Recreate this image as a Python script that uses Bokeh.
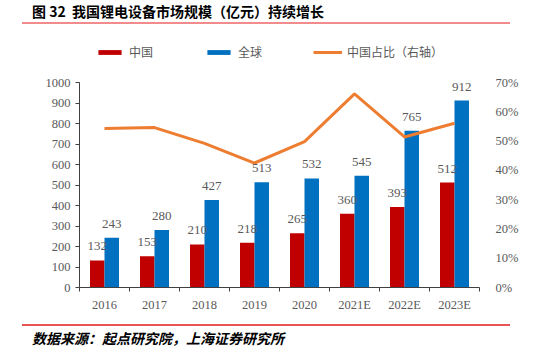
import numpy as np
from bokeh.plotting import figure
from bokeh.models import (Range1d, LinearAxis, FixedTicker, NumeralTickFormatter,
                          Legend, LegendItem, Div, ColumnDataSource)
from bokeh.layouts import column
from bokeh.core.properties import value
from bokeh.embed import file_html
from bokeh.resources import INLINE

# ---------------- data ----------------
categories = ["2016", "2017", "2018", "2019", "2020", "2021E", "2022E", "2023E"]
china = [132, 153, 210, 218, 265, 360, 393, 512]
world = [243, 280, 427, 513, 532, 545, 765, 912]
china_share = [0.543, 0.546, 0.492, 0.425, 0.498, 0.661, 0.514, 0.561]
left_ticks = [0, 100, 200, 300, 400, 500, 600, 700, 800, 900, 1000]
right_ticks = [0.0, 0.1, 0.2, 0.3, 0.4, 0.5, 0.6, 0.7]
legend_labels = ["中国", "全球", "中国占比（右轴）"]
title_text = "图 32&nbsp;&nbsp;我国锂电设备市场规模（亿元）持续增长"
source_text = "数据来源：起点研究院，上海证券研究所"

RED = "#C00000"
BLUE = "#0070C0"
ORANGE = "#ED7D31"
GRAY = "#595959"
AXIS = "#404040"

LEFT_MAX = 1000
RIGHT_MAX = 0.7
HEAD = 1.2  # frame extends above the axes' top to hold the legend

n = len(categories)
xc = np.arange(n) + 0.5
bw = 0.29
src = ColumnDataSource(dict(
    xc=xc,
    x_cn=xc - bw / 2,
    x_gl=xc + bw / 2,
    cn=china,
    gl=world,
    share=china_share,
    cn_lbl=[str(v) for v in china],
    gl_lbl=[str(v) for v in world],
))

p = figure(width=544, height=292, x_range=Range1d(0, n), y_range=Range1d(0, LEFT_MAX * HEAD),
           output_backend="svg", toolbar_location=None,
           min_border_left=79, min_border_right=65, min_border_top=15, min_border_bottom=31,
           outline_line_color=None, background_fill_color="white", border_fill_color="white")
p.extra_y_ranges = {"pct": Range1d(0, RIGHT_MAX * HEAD)}
p.xgrid.visible = False
p.ygrid.visible = False

# x axis
xa = p.xaxis[0]
xa.ticker = FixedTicker(ticks=list(xc), minor_ticks=list(range(0, n + 1)))
xa.major_label_overrides = {float(x): c for x, c in zip(xc, categories)}
xa.major_tick_out = 0
xa.major_tick_in = 0
xa.major_tick_line_color = None
xa.minor_tick_out = 4
xa.minor_tick_in = 0
xa.minor_tick_line_color = AXIS
xa.axis_line_color = AXIS
xa.major_label_standoff = 6
xa.major_label_text_font = "Liberation Serif"
xa.major_label_text_font_size = "12.5px"
xa.major_label_text_color = GRAY

# left axis
ya = p.yaxis[0]
ya.ticker = FixedTicker(ticks=left_ticks)
ya.bounds = (0, LEFT_MAX)
ya.minor_tick_line_color = None
ya.major_tick_out = 4
ya.major_tick_in = 0
ya.major_tick_line_color = AXIS
ya.axis_line_color = AXIS
ya.major_label_standoff = 5
ya.major_label_text_font = "Liberation Serif"
ya.major_label_text_font_size = "12.5px"
ya.major_label_text_color = GRAY

# right axis
yr = LinearAxis(y_range_name="pct", ticker=FixedTicker(ticks=right_ticks),
                formatter=NumeralTickFormatter(format="0%"), bounds=(0, RIGHT_MAX))
yr.axis_line_color = None
yr.major_tick_line_color = None
yr.minor_tick_line_color = None
yr.major_label_standoff = 10
yr.major_label_text_font = "Liberation Serif"
yr.major_label_text_font_size = "12.5px"
yr.major_label_text_color = GRAY
p.add_layout(yr, "right")

# glyphs
r_cn = p.vbar(x="x_cn", top="cn", width=bw, source=src, fill_color=RED, line_color=None)
r_gl = p.vbar(x="x_gl", top="gl", width=bw, source=src, fill_color=BLUE, line_color=None)
r_ln = p.line(x="xc", y="share", y_range_name="pct", source=src, line_color=ORANGE, line_width=3)

for xf, yf, tf in (("x_cn", "cn", "cn_lbl"), ("x_gl", "gl", "gl_lbl")):
    p.text(x=xf, y=yf, text=tf, source=src, text_align="center", text_baseline="middle",
           y_offset=-14, text_font=value("Liberation Serif"), text_font_size="13px",
           text_color=GRAY)

legend = Legend(items=[LegendItem(label=legend_labels[0], renderers=[r_cn]),
                       LegendItem(label=legend_labels[1], renderers=[r_gl]),
                       LegendItem(label=legend_labels[2], renderers=[r_ln])],
                orientation="horizontal", location=(16, 227),
                glyph_width=29, glyph_height=6, label_height=6, label_standoff=5,
                spacing=51, padding=0, margin=0, border_line_color=None,
                background_fill_alpha=0,
                label_text_font="Noto Sans CJK SC", label_text_font_size="12px",
                label_text_color=GRAY)
p.add_layout(legend)

title_html = (
    '<div style="position:relative;width:544px;height:26px;background:#fff;">'
    '<div style="position:absolute;left:32px;top:2px;font-family:\'Noto Sans CJK SC\';'
    'font-weight:bold;font-size:14px;line-height:18px;color:#000;white-space:nowrap;">'
    + title_text +
    '</div><div style="position:absolute;left:22px;top:22px;width:488px;height:2px;'
    'background:#F28B8B;"></div></div>'
)
foot_html = (
    '<div style="position:relative;width:544px;height:36px;background:#fff;">'
    '<div style="position:absolute;left:22px;top:6px;width:488px;height:1.5px;'
    'background:#E85555;"></div>'
    '<div style="position:absolute;left:32px;top:11px;font-family:\'Noto Sans CJK SC\';'
    'font-weight:bold;font-style:italic;font-size:14px;line-height:18px;color:#000;'
    'white-space:nowrap;">' + source_text + '</div></div>'
)
title_div = Div(text=title_html, width=544, height=26, margin=0)
foot_div = Div(text=foot_html, width=544, height=36, margin=0)

layout = column(title_div, p, foot_div, spacing=0, margin=0)

open("out.html", "w").write(file_html(layout, INLINE))
